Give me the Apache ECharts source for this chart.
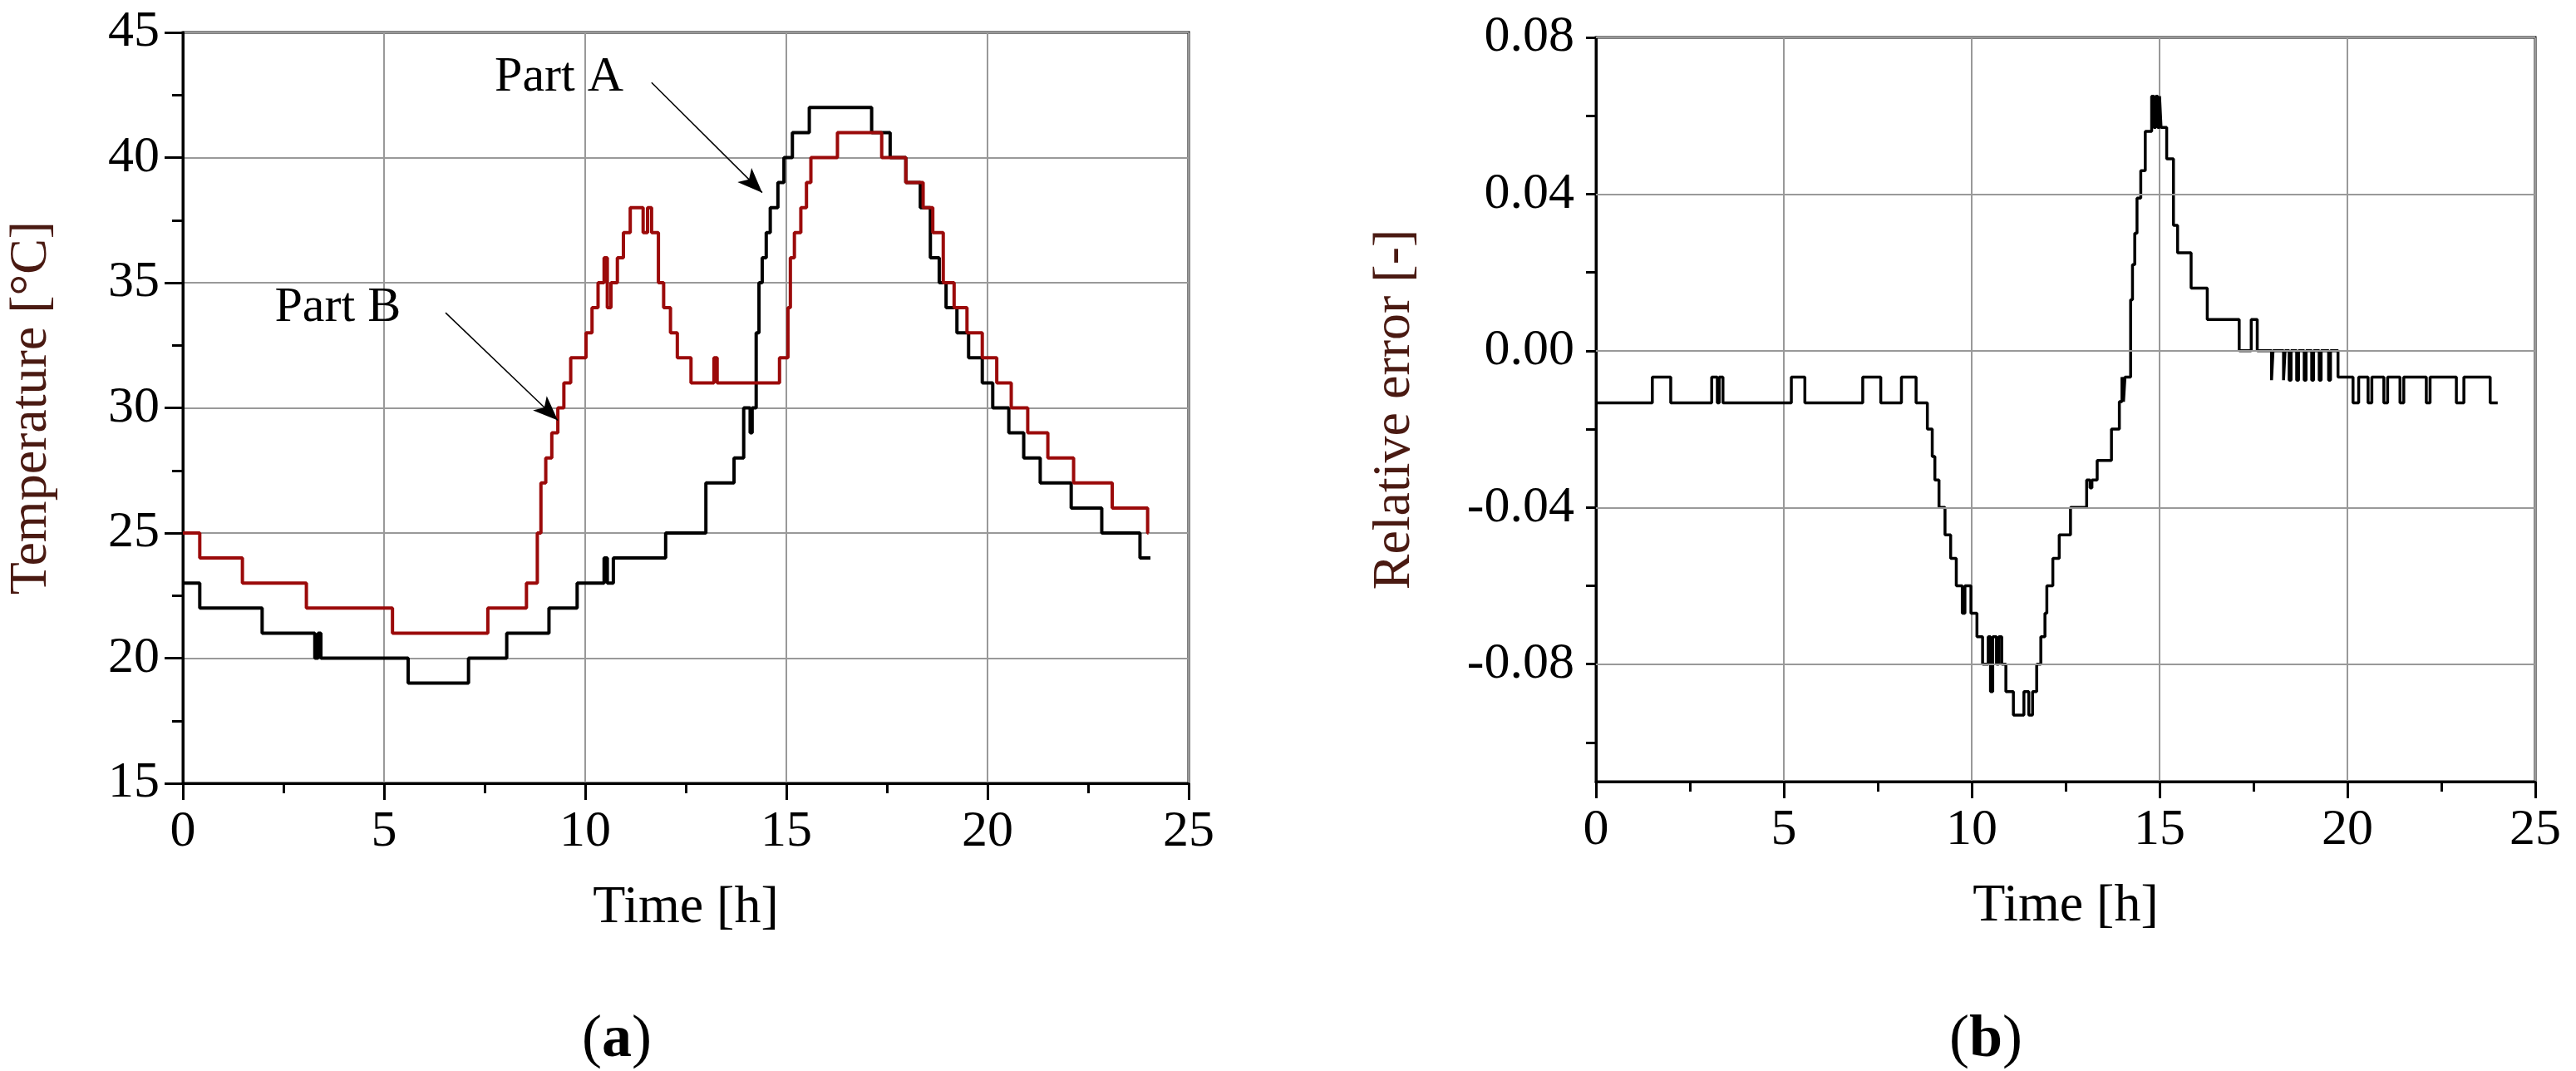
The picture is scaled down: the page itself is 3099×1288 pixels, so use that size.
<!DOCTYPE html>
<html><head><meta charset="utf-8">
<script src="https://cdn.jsdelivr.net/npm/echarts@6/dist/echarts.min.js"></script>
<style>html,body{margin:0;background:#fff}#c{width:3099px;height:1288px}</style>
</head><body><div id="c"></div>
<script>
// Part A (black), [start hour, temperature]
var partA = [[0,23],[0.42,22],[1.97,21],[3.28,20],[3.36,21],[3.43,20],[5.6,19],[7.1,20],[8.05,21],[9.1,22],[9.8,23],[10.47,24],[10.55,23],[10.7,24],[12.0,25],[13.0,27],[13.7,28],[13.94,30],[14.1,29],[14.15,30],[14.25,33],[14.32,35],[14.4,36],[14.5,37],[14.6,38],[14.79,39],[14.94,40],[15.15,41],[15.57,42],[17.12,41],[17.58,40],[17.97,39],[18.33,38],[18.58,36],[18.8,35],[18.97,34],[19.24,33],[19.53,32],[19.87,31],[20.13,30],[20.53,29],[20.9,28],[21.31,27],[22.08,26],[22.84,25],[23.79,24],[24.05,24]];
// Part B (red)
var partB = [[0,25],[0.42,24],[1.48,23],[3.07,22],[5.21,21],[7.58,22],[8.54,23],[8.81,25],[8.9,27],[9.02,28],[9.17,29],[9.32,30],[9.47,31],[9.64,32],[10.02,33],[10.17,34],[10.32,35],[10.47,36],[10.55,34],[10.64,35],[10.8,36],[10.95,37],[11.12,38],[11.44,37],[11.55,38],[11.65,37],[11.82,35],[11.95,34],[12.12,33],[12.29,32],[12.63,31],[13.2,32],[13.28,31],[14.83,32],[15.04,34],[15.1,36],[15.2,37],[15.36,38],[15.5,39],[15.61,40],[16.27,41],[17.37,40],[17.97,39],[18.4,38],[18.64,37],[18.9,35],[19.17,34],[19.49,33],[19.87,32],[20.23,31],[20.59,30],[21.0,29],[21.5,28],[22.14,27],[23.1,26],[23.98,25],[24.0,25]];
// Relative error
var relErr = [[0,-0.0133],[1.5,-0.0067],[1.99,-0.0133],[3.08,-0.0067],[3.23,-0.0133],[3.28,-0.0067],[3.38,-0.0133],[5.2,-0.0067],[5.56,-0.0133],[7.1,-0.0067],[7.58,-0.0133],[8.13,-0.0067],[8.52,-0.0133],[8.82,-0.02],[8.95,-0.027],[9.02,-0.033],[9.13,-0.04],[9.29,-0.047],[9.44,-0.053],[9.59,-0.06],[9.75,-0.067],[9.82,-0.06],[9.98,-0.067],[10.14,-0.073],[10.29,-0.08],[10.44,-0.073],[10.5,-0.087],[10.56,-0.073],[10.66,-0.08],[10.72,-0.073],[10.8,-0.08],[10.91,-0.087],[11.11,-0.093],[11.39,-0.087],[11.52,-0.093],[11.62,-0.087],[11.73,-0.08],[11.84,-0.073],[11.95,-0.067],[12.0,-0.06],[12.16,-0.053],[12.33,-0.047],[12.63,-0.04],[13.06,-0.033],[13.15,-0.035],[13.2,-0.033],[13.34,-0.028],[13.72,-0.02],[13.93,-0.013],[14.0,-0.0067],[14.04,-0.013],[14.08,-0.0067],[14.23,0.013],[14.28,0.022],[14.34,0.03],[14.4,0.039],[14.5,0.046],[14.62,0.056],[14.79,0.065],[14.85,0.057],[14.9,0.065],[14.95,0.057],[15.0,0.065],[15.04,0.057],[15.19,0.049],[15.37,0.032],[15.48,0.025],[15.84,0.016],[16.27,0.008],[17.12,0],[17.44,0.008],[17.6,0],[17.98,-0.0075],[18.02,0],[18.3,-0.0075],[18.34,0],[18.45,-0.0075],[18.5,0],[18.65,-0.0075],[18.7,0],[18.85,-0.0075],[18.9,0],[19.05,-0.0075],[19.1,0],[19.25,-0.0075],[19.3,0],[19.5,-0.0075],[19.55,0],[19.75,-0.0067],[20.15,-0.0133],[20.3,-0.0067],[20.55,-0.0133],[20.65,-0.0067],[20.97,-0.0133],[21.07,-0.0067],[21.4,-0.0133],[21.5,-0.0067],[22.1,-0.0133],[22.2,-0.0067],[22.9,-0.0133],[23.1,-0.0067],[23.8,-0.0133],[24.0,-0.0133]];
var errLabels = [-0.08, -0.04, 0, 0.04, 0.08];
var errTicks = [-0.1, -0.08, -0.06, -0.04, -0.02, 0, 0.02, 0.04, 0.06, 0.08];

var font = '"Liberation Serif", "Times New Roman", serif';
var nameColor = '#4a1a12';
function xAx(gi) {
  return {
    gridIndex: gi, type: 'value', min: 0, max: 25, interval: 5,
    name: 'Time [h]', nameLocation: 'middle', nameGap: 118,
    nameTextStyle: { fontFamily: font, fontSize: 64, color: '#000' },
    axisLine: { onZero: false, lineStyle: { color: '#000', width: 3 } },
    axisTick: { length: 20, lineStyle: { width: 3, color: '#000' } },
    minorTick: { show: true, splitNumber: 2, length: 12, lineStyle: { width: 3, color: '#000' } },
    axisLabel: { fontFamily: font, fontSize: 62, color: '#000', margin: 28 },
    splitLine: { lineStyle: { color: '#999', width: 2 } }
  };
}
var chart = echarts.init(document.getElementById('c'));
chart.setOption({
  animation: false,
  backgroundColor: '#fff',
  grid: [
    { left: 220, top: 39, width: 1210, height: 903, show: true, borderColor: '#000', borderWidth: 3 },
    { left: 1920, top: 45, width: 1130, height: 895, show: true, borderColor: '#000', borderWidth: 3 }
  ],
  xAxis: [xAx(0), xAx(1)],
  yAxis: [
    {
      gridIndex: 0, type: 'value', min: 15, max: 45, interval: 5,
      name: 'Temperature [°C]', nameLocation: 'middle', nameGap: 150,
      nameTextStyle: { fontFamily: font, fontSize: 64, color: nameColor },
      axisLine: { lineStyle: { color: '#000', width: 3 } },
      axisTick: { length: 22, lineStyle: { width: 3, color: '#000' } },
      minorTick: { show: true, splitNumber: 2, length: 13, lineStyle: { width: 3, color: '#000' } },
      axisLabel: { fontFamily: font, fontSize: 62, color: '#000', margin: 28 },
      splitLine: { lineStyle: { color: '#999', width: 2 } }
    },
    {
      gridIndex: 1, type: 'value', min: -0.11, max: 0.08,
      name: 'Relative error [-]', nameLocation: 'middle', nameGap: 210,
      nameTextStyle: { fontFamily: font, fontSize: 64, color: nameColor },
      axisLine: { lineStyle: { color: '#000', width: 3 } },
      axisTick: { length: 12, customValues: errTicks, lineStyle: { width: 3, color: '#000' } },
      axisLabel: { fontFamily: font, fontSize: 62, color: '#000', margin: 26, customValues: errLabels,
        formatter: function (v) { return v.toFixed(2); } },
      splitLine: { show: false }
    }
  ],
  series: [
    { type: 'line', xAxisIndex: 0, yAxisIndex: 0, step: 'end', data: partA, showSymbol: false,
      lineStyle: { color: '#000', width: 4 },
      markLine: { silent: true, symbol: ['none', 'arrow'], symbolSize: [18, 30],
        lineStyle: { color: '#000', width: 1.5, type: 'solid' }, label: { show: false },
        data: [[{ coord: [11.65, 43.0] }, { coord: [14.4, 38.6] }],
               [{ coord: [6.53, 33.8] }, { coord: [9.32, 29.5] }]] },
      markPoint: { symbol: 'circle', symbolSize: 1, itemStyle: { color: 'transparent' },
        label: { show: true, fontFamily: font, fontSize: 60, color: '#000', formatter: '{b}' },
        data: [{ name: 'Part A', coord: [9.35, 43.2] }, { name: 'Part B', coord: [3.85, 34.0] }] } },
    { type: 'line', xAxisIndex: 0, yAxisIndex: 0, step: 'end', data: partB, showSymbol: false,
      lineStyle: { color: '#9b0a0a', width: 4 } },
    { type: 'line', xAxisIndex: 1, yAxisIndex: 1, step: 'end', data: relErr, showSymbol: false,
      lineStyle: { color: '#000', width: 3.5 },
      markLine: { silent: true, symbol: 'none', label: { show: false },
        lineStyle: { color: '#999', width: 2, type: 'solid' },
        data: errLabels.map(function (v) { return { yAxis: v }; }) } }
  ],
  graphic: [
    { type: 'text', left: 700, top: 1215, style: { text: '({b|a})', fontFamily: font, fontSize: 72, fill: '#000',
      rich: { b: { fontFamily: font, fontSize: 72, fontWeight: 'bold' } } } },
    { type: 'text', left: 2345, top: 1215, style: { text: '({b|b})', fontFamily: font, fontSize: 72, fill: '#000',
      rich: { b: { fontFamily: font, fontSize: 72, fontWeight: 'bold' } } } }
  ]
});
</script></body></html>
